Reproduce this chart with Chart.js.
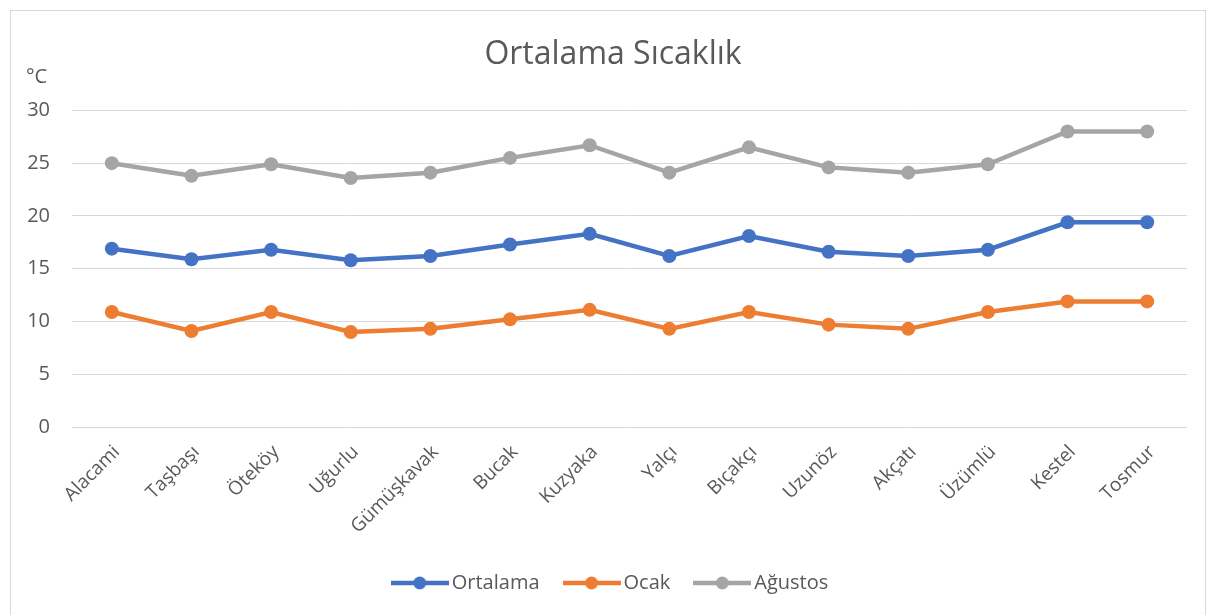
<!DOCTYPE html>
<html>
<head>
<meta charset="utf-8">
<script src="https://cdn.jsdelivr.net/npm/chart.js@4"></script>
<style>
html,body{margin:0;padding:0;background:#fff;overflow:hidden;}
#wrap{position:absolute;left:0;top:0;width:1214px;height:615px;}
#frame{position:absolute;left:10px;top:10px;width:1194px;height:640px;border:1px solid #d9d9d9;pointer-events:none;}
</style>
</head>
<body>
<div id="wrap"><canvas id="c" width="1214" height="615"></canvas></div>
<div id="frame"></div>
<script>
const categories = ["Alacami","Taşbaşı","Öteköy","Uğurlu","Gümüşkavak","Bucak","Kuzyaka","Yalçı","Bıçakçı","Uzunöz","Akçatı","Üzümlü","Kestel","Tosmur"];
const ortalama = [16.9,15.9,16.8,15.8,16.2,17.3,18.3,16.2,18.1,16.6,16.2,16.8,19.4,19.4];
const ocak = [10.9,9.1,10.9,9.0,9.3,10.2,11.1,9.3,10.9,9.7,9.3,10.9,11.9,11.9];
const agustos = [25.0,23.8,24.9,23.6,24.1,25.5,26.7,24.1,26.5,24.6,24.1,24.9,28.0,28.0];
const seriesNames = ["Ortalama","Ocak","Ağustos"];
const seriesColors = ["#4472C4","#ED7D31","#A5A5A5"];
const yTicks = {min:0,max:30,step:5};
const titleText = "Ortalama Sıcaklık";
const unitText = "°C";

const FONT = "'Open Sans', sans-serif";
const TEXT = "#595959";

function legendIcon(color){
  const cv = document.createElement('canvas');
  cv.width = 58; cv.height = 16;
  const g = cv.getContext('2d');
  g.strokeStyle = color; g.lineWidth = 4.5; g.lineCap = 'butt';
  g.beginPath(); g.moveTo(0,8); g.lineTo(58,8); g.stroke();
  g.fillStyle = color; g.beginPath(); g.arc(29,8,6.5,0,Math.PI*2); g.fill();
  return cv;
}
const icons = seriesColors.map(legendIcon);

const unitPlugin = {
  id:'unit',
  afterDraw(chart){
    const ctx = chart.ctx;
    ctx.save();
    ctx.font = "20px " + FONT;
    ctx.fillStyle = TEXT;
    ctx.textAlign = 'left';
    ctx.textBaseline = 'middle';
    ctx.fillText(unitText, 26, 77);
    ctx.restore();
  }
};

const dataSets = [ortalama, ocak, agustos];
new Chart(document.getElementById('c'), {
  type:'line',
  data:{
    labels:categories,
    datasets:dataSets.map((d,i)=>({
      label:seriesNames[i],
      data:d,
      borderColor:seriesColors[i],
      backgroundColor:seriesColors[i],
      borderWidth:4.5,
      pointRadius:7,
      pointHoverRadius:7,
      pointBorderWidth:0,
      pointBackgroundColor:seriesColors[i],
      tension:0,
      fill:false,
      yAxisID:'y'
    }))
  },
  options:{
    responsive:false,
    animation:false,
    devicePixelRatio:1,
    layout:{padding:{left:27,right:15,top:0,bottom:12}},
    plugins:{
      title:{display:true,text:titleText,color:TEXT,font:{family:FONT,size:32,weight:'normal'},padding:{top:36,bottom:36}},
      legend:{
        position:'bottom',
        labels:{
          usePointStyle:true,
          pointStyleWidth:44,
          color:TEXT,
          font:{family:FONT,size:20},
          padding:30,
          generateLabels(chart){
            return chart.data.datasets.map((ds,i)=>({
              text:ds.label, pointStyle:icons[i], fillStyle:ds.borderColor,
              strokeStyle:ds.borderColor, lineWidth:0, hidden:false, datasetIndex:i, fontColor:TEXT
            }));
          }
        }
      },
      tooltip:{enabled:false}
    },
    scales:{
      x:{
        offset:true,
        grid:{display:false,drawTicks:false,offset:true},
        border:{display:false},
        ticks:{color:TEXT,font:{family:FONT,size:19},minRotation:45,maxRotation:45,padding:14,labelOffset:5,autoSkip:false},
        afterFit(s){ s.height = 116; }
      },
      y:{
        position:'left',
        min:yTicks.min,max:yTicks.max,
        grid:{color:'#d9d9d9',lineWidth:1,drawTicks:false},
        border:{display:false},
        ticks:{stepSize:yTicks.step,color:TEXT,font:{family:FONT,size:20},padding:22},
        afterFit(s){ s.width = 45; }
      },
      y2:{
        position:'right',
        min:yTicks.min,max:yTicks.max,
        grid:{display:false,drawTicks:false},
        border:{display:false},
        ticks:{display:false},
        afterFit(s){ s.width = 12; }
      }
    }
  },
  plugins:[unitPlugin]
});
</script>
</body>
</html>
